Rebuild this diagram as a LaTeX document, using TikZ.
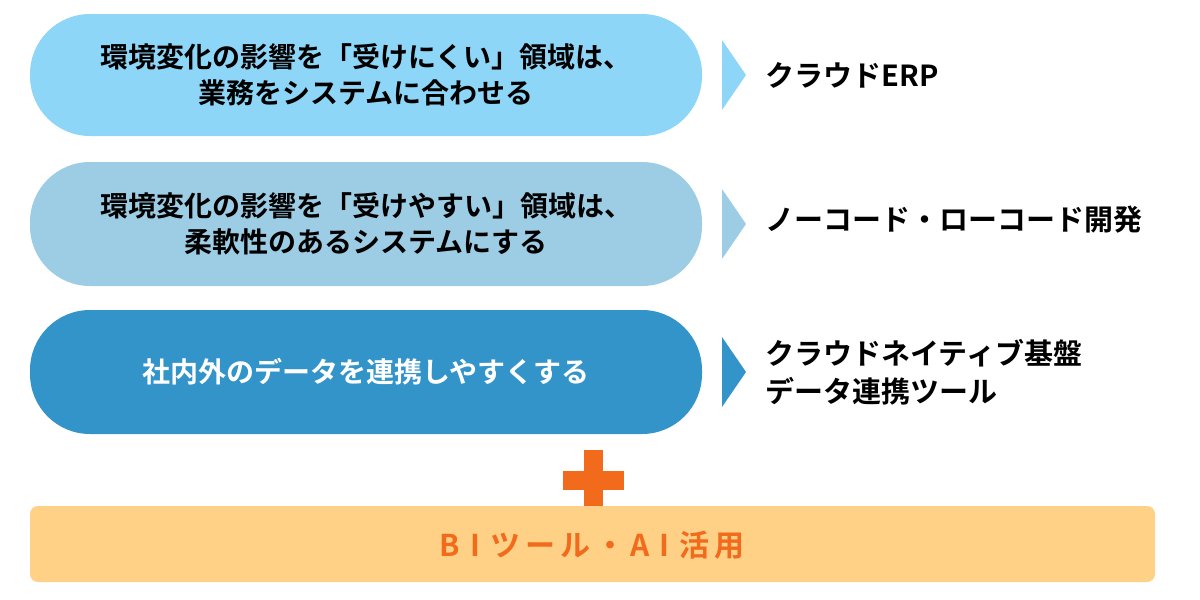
\documentclass[tikz,border=0pt]{standalone}
\usepackage{fontspec}
\setmainfont{Noto Sans CJK JP}[BoldFont={Noto Sans CJK JP Bold}]
\begin{document}
\begin{tikzpicture}[x=1pt,y=-1pt,
  pill/.style={rounded corners=60pt},
  pilltext/.style={align=center,font=\fontsize{28}{36}\selectfont\bfseries},
  righttext/.style={anchor=west,align=left,font=\fontsize{29}{38}\selectfont\bfseries}]
\useasboundingbox (0,0) rectangle (1200,600);
\definecolor{c1}{HTML}{8ED6F8}
\definecolor{c2}{HTML}{9CCDE4}
\definecolor{c3}{HTML}{3394C9}
\definecolor{org}{HTML}{F26A1B}
\definecolor{ylw}{HTML}{FFD186}
\fill[c1,pill] (30,14) rectangle (702,136);
\fill[c2,pill] (30,162) rectangle (702,286);
\fill[c3,pill] (30,310) rectangle (702,434);
\node[pilltext] (p1) at (366,75) {環境変化の影響を「受けにくい」領域は、\\業務をシステムに合わせる};
\node[pilltext] (p2) at (366,224) {環境変化の影響を「受けやすい」領域は、\\柔軟性のあるシステムにする};
\node[pilltext,text=white] (p3) at (366,372) {社内外のデータを連携しやすくする};
\fill[c1] (722,40) -- (746,75) -- (722,110) -- cycle;
\fill[c2] (722,189) -- (746,224) -- (722,259) -- cycle;
\fill[c3] (722,337) -- (746,372) -- (722,407) -- cycle;
\node[righttext] (r1) at (762,75) {クラウドERP};
\node[righttext] (r2) at (762,220) {ノーコード・ローコード開発};
\node[righttext] (r3) at (762,372) {クラウドネイティブ基盤\\データ連携ツール};
\fill[ylw,rounded corners=8pt] (30,506) rectangle (1155,582);
\fill[org] (563,471) rectangle (624,490);
\fill[org] (584,450) rectangle (603,506);
\node[font=\fontsize{30}{34}\selectfont\bfseries,text=org] (b) at (592,545) {B\,\,I\,\,ツ\,ー\,ル\,・\,A\,\,I\,\,活\,用};
\end{tikzpicture}
\end{document}
